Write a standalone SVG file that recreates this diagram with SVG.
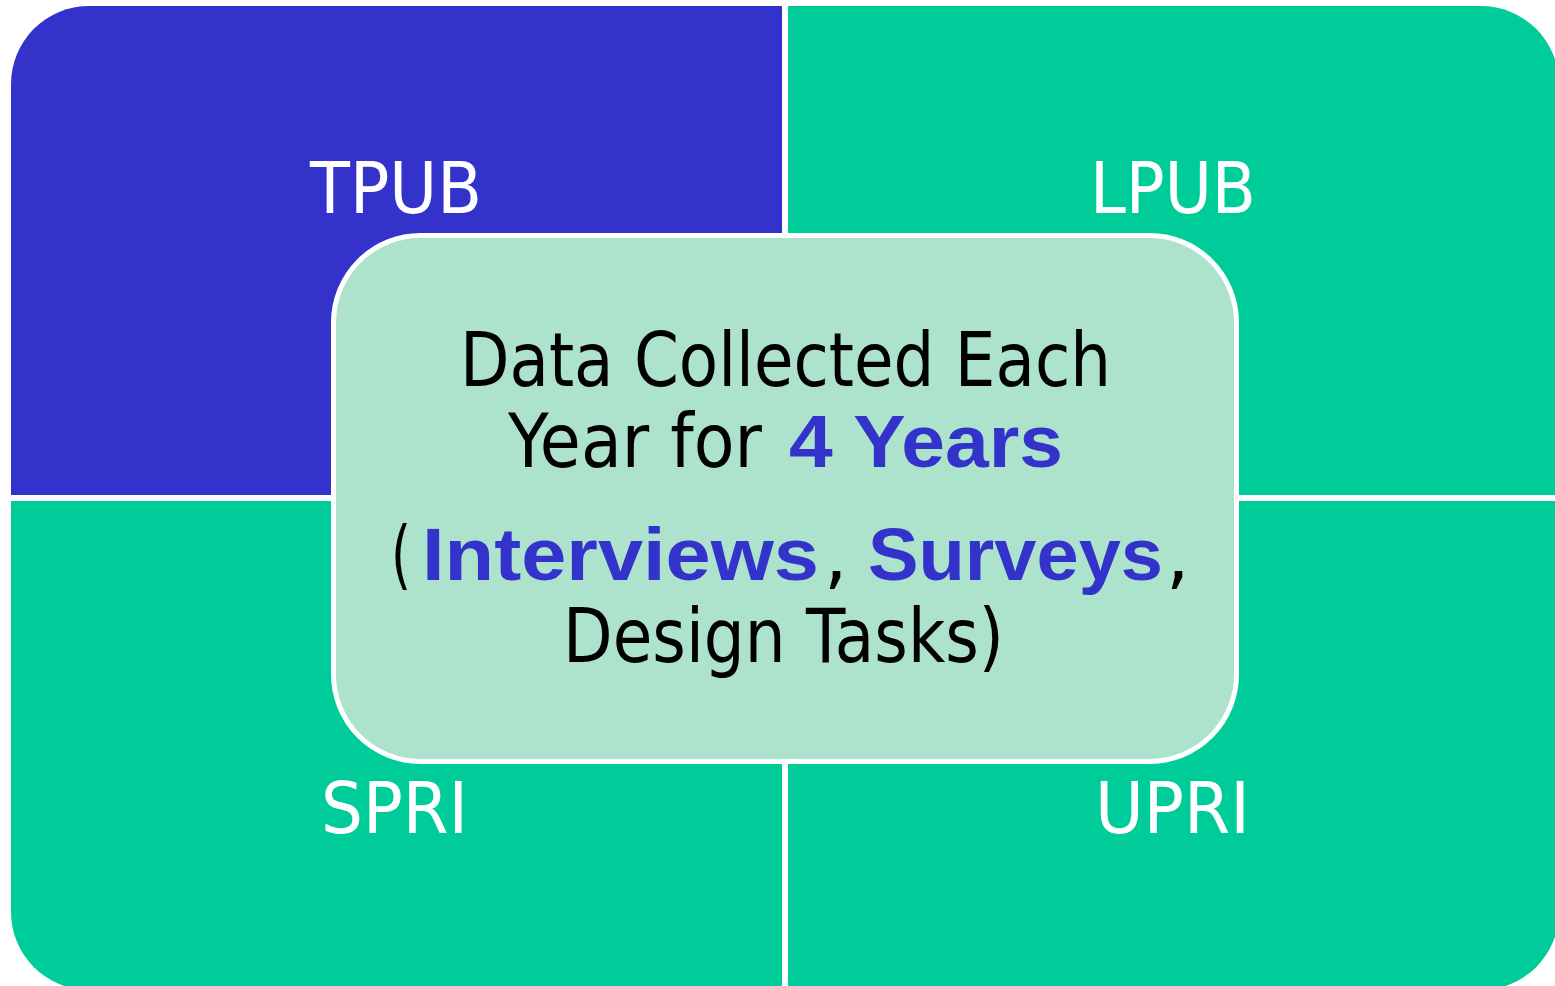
<svg xmlns="http://www.w3.org/2000/svg" width="1555" height="986" viewBox="0 0 1555 986">
  <style>
    .blue { fill: #3333CC; }
    .green { fill: #00CC99; }
    .label { font-family: "DejaVu Sans", "Liberation Sans", sans-serif; font-size: 72px; fill: #FFFFFF; }
    .body { font-family: "DejaVu Sans", "Liberation Sans", sans-serif; font-size: 74px; fill: #000000; }
    .accent { font-family: "Liberation Sans", "DejaVu Sans", sans-serif; font-weight: bold; font-size: 75px; fill: #3333CC; }
  </style>
  <rect width="1555" height="986" fill="#FFFFFF"/>

  <!-- four quadrants, each with one rounded outer corner -->
  <g id="tpub">
    <path class="blue" d="M11,495 V84 A78,78 0 0 1 89,6 H782 V495 Z"/>
    <text class="label" x="310" y="213" textLength="172" lengthAdjust="spacingAndGlyphs">TPUB</text>
  </g>
  <g id="lpub">
    <path class="green" d="M788,6 H1481 A78,78 0 0 1 1559,84 V495 H788 Z"/>
    <text class="label" x="1090" y="213" textLength="166" lengthAdjust="spacingAndGlyphs">LPUB</text>
  </g>
  <g id="spri">
    <path class="green" d="M11,501 H782 V990 H89 A78,78 0 0 1 11,912 Z"/>
    <text class="label" x="321" y="833" textLength="147" lengthAdjust="spacingAndGlyphs">SPRI</text>
  </g>
  <g id="upri">
    <path class="green" d="M788,501 H1559 V912 A78,78 0 0 1 1481,990 H788 Z"/>
    <text class="label" x="1095" y="833" textLength="155" lengthAdjust="spacingAndGlyphs">UPRI</text>
  </g>

  <!-- central summary panel -->
  <g id="center">
    <rect x="333.5" y="235.5" width="903" height="526" rx="87" ry="87" fill="#ADE2CC" stroke="#FFFFFF" stroke-width="5"/>
    <text class="body" x="460" y="386" textLength="651" lengthAdjust="spacingAndGlyphs">Data Collected Each</text>
    <text class="body" x="508" y="467" textLength="254" lengthAdjust="spacingAndGlyphs">Year for</text>
    <text class="accent" x="789" y="467" textLength="274" lengthAdjust="spacingAndGlyphs">4 Years</text>
    <text class="body" x="391" y="580" font-size="80" textLength="20" lengthAdjust="spacingAndGlyphs">(</text>
    <text class="accent" x="422" y="580" textLength="397" lengthAdjust="spacingAndGlyphs">Interviews</text>
    <text class="body" x="824" y="580">,</text>
    <text class="accent" x="868" y="580" textLength="295" lengthAdjust="spacingAndGlyphs">Surveys</text>
    <text class="body" x="1166" y="580">,</text>
    <text class="body" x="563" y="662" font-size="77" textLength="441" lengthAdjust="spacingAndGlyphs">Design Tasks)</text>
  </g>
</svg>
